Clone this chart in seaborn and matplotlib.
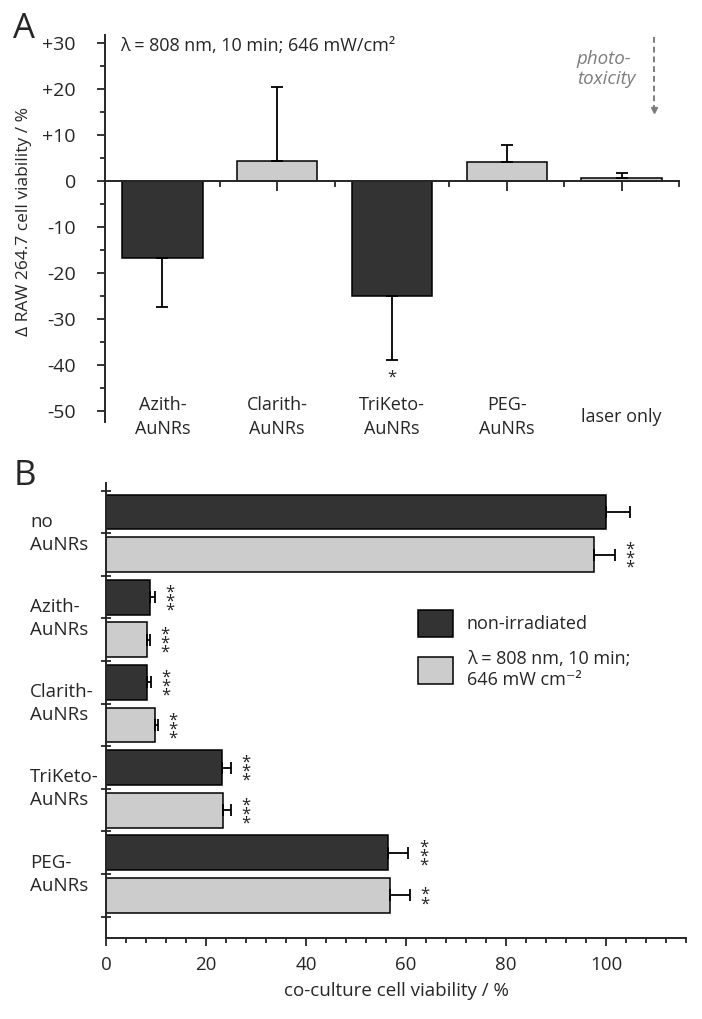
import matplotlib
matplotlib.use("Agg")
import matplotlib.pyplot as plt
import matplotlib.transforms as mtransforms
from matplotlib.ticker import MultipleLocator, FixedLocator
from matplotlib.patches import Patch
import numpy as np
import pandas as pd
import seaborn as sns

# =========================
# DATA
# =========================
# panel A: change of RAW 264.7 viability after irradiation
a_labels = ["Azith-\nAuNRs", "Clarith-\nAuNRs", "TriKeto-\nAuNRs", "PEG-\nAuNRs", "laser only"]
a_delta = [-16.8, 4.4, -25.1, 4.2, 0.6]
a_err = [10.7, 15.9, 13.8, 3.6, 1.0]
a_fill = ["dark", "light", "dark", "light", "light"]
a_stars = ["", "", "*", "", ""]
a_yticks = [-50, -40, -30, -20, -10, 0, 10, 20, 30]
a_yticklabels = ["-50", "-40", "-30", "-20", "-10", "0", "+10", "+20", "+30"]

# panel B: co-culture viability
b_groups = ["no\nAuNRs", "Azith-\nAuNRs", "Clarith-\nAuNRs", "TriKeto-\nAuNRs", "PEG-\nAuNRs"]
b_conditions = ["non-irradiated", "λ = 808 nm, 10 min;\n646 mW cm⁻²"]
b_dark = [100.1, 8.7, 8.1, 23.2, 56.4]
b_dark_err = [4.8, 1.0, 0.9, 1.8, 4.1]
b_dark_stars = ["", "***", "***", "***", "***"]
b_light = [97.7, 8.1, 9.7, 23.4, 56.8]
b_light_err = [4.1, 0.7, 0.6, 1.6, 4.0]
b_light_stars = ["***", "***", "***", "***", "**"]
b_xticks = [0, 20, 40, 60, 80, 100]

DARK = "#333333"
LIGHT = "#cccccc"
GREY = "#7d7d7d"

sns.set_style("ticks")
plt.rcParams["font.family"] = ["Open Sans", "DejaVu Sans"]
plt.rcParams["axes.linewidth"] = 1.4

fig = plt.figure(figsize=(7.02, 10.19), dpi=100)

# =========================
# PANEL A
# =========================
axA = fig.add_axes([0.1496, 0.5859, 0.8177, 0.3798])
dfA = pd.DataFrame({"label": a_labels, "delta": a_delta, "fill": a_fill})
sns.barplot(data=dfA, x="label", y="delta", hue="fill", dodge=False,
            palette={"dark": DARK, "light": LIGHT}, width=0.7,
            edgecolor="black", linewidth=1.1, legend=False, ax=axA)

lo = [e if v < 0 else 0 for v, e in zip(a_delta, a_err)]
up = [e if v >= 0 else 0 for v, e in zip(a_delta, a_err)]
axA.errorbar(np.arange(len(a_delta)), a_delta, yerr=[lo, up], fmt="none",
             ecolor="black", elinewidth=1.3, capsize=4, capthick=1.3)

axA.set_xlim(-0.5, 4.5)
axA.set_ylim(-52.4, 31.7)
sns.despine(ax=axA)
axA.spines["bottom"].set_position(("data", 0))

axA.set_xticks(np.arange(len(a_labels)))
axA.set_xticks(np.arange(len(a_labels)) + 0.5, minor=True)
axA.tick_params(axis="x", which="major", direction="out", length=7, width=1.3, labelbottom=False)
axA.tick_params(axis="x", which="minor", direction="out", length=4, width=1.3)
axA.set_yticks(a_yticks)
axA.set_yticklabels(a_yticklabels)
axA.yaxis.set_minor_locator(MultipleLocator(5))
axA.tick_params(axis="y", which="major", direction="out", length=6, width=1.3, pad=15, labelsize=14)
axA.tick_params(axis="y", which="minor", direction="out", length=3.6, width=1.3)
axA.set_xlabel("")
axA.set_ylabel("Δ RAW 264.7 cell viability / %", fontsize=12.5)
axA.yaxis.set_label_coords(-0.128, 0.519)

for i, lab in enumerate(a_labels):
    axA.text(i, -51.3, lab, ha="center", va="center", fontsize=13,
             linespacing=1.45)
    if a_stars[i]:
        axA.text(i, -42.8, a_stars[i], ha="center", va="center", fontsize=12)

axA.text(0.026, 0.9716, "λ = 808 nm, 10 min; 646 mW/cm²", transform=axA.transAxes,
         ha="left", va="center", fontsize=13)
axA.text(0.822, 0.912, "photo-\ntoxicity", transform=axA.transAxes, ha="left",
         va="center", fontsize=13.5, style="italic", color=GREY, linespacing=1.1)
axA.plot([0.9564, 0.9564], [0.995, 0.812], transform=axA.transAxes, color=GREY,
         lw=1.4, ls=(0, (3, 2)), clip_on=False)
axA.plot([0.9564], [0.806], transform=axA.transAxes, marker="v", color=GREY,
         markersize=5, clip_on=False)

# =========================
# PANEL B
# =========================
axB = fig.add_axes([0.151, 0.0795, 0.8262, 0.4465])
dfB = pd.DataFrame({
    "group": b_groups * 2,
    "condition": [b_conditions[0]] * len(b_groups) + [b_conditions[1]] * len(b_groups),
    "viability": b_dark + b_light,
})
sns.barplot(data=dfB, x="viability", y="group", hue="condition", orient="h",
            width=1.0, gap=0.18, palette=[DARK, LIGHT], edgecolor="black",
            linewidth=1.1, legend=False, ax=axB)

series = [(b_dark, b_dark_err, b_dark_stars), (b_light, b_light_err, b_light_stars)]
for cont, (vals, errs, stars) in zip(axB.containers, series):
    ys = [bar.get_y() + bar.get_height() / 2 for bar in cont]
    axB.errorbar(vals, ys, xerr=[[0] * len(vals), errs], fmt="none",
                 ecolor="black", elinewidth=1.3, capsize=4, capthick=1.3)
    for v, e, s, y in zip(vals, errs, stars, ys):
        if s:
            axB.text(v + e + 3.0, y + 0.05, "\n".join(s), ha="center", va="center",
                     fontsize=12, linespacing=0.42, color="#222222")

axB.set_xlim(0, 116)
axB.set_ylim(4.75, -0.59)
sns.despine(ax=axB)
axB.xaxis.set_major_locator(FixedLocator(b_xticks))
axB.xaxis.set_minor_locator(MultipleLocator(4))
axB.tick_params(axis="x", which="major", direction="out", length=6, width=1.3, pad=7, labelsize=13.5)
axB.tick_params(axis="x", which="minor", direction="out", length=3.6, width=1.3)
axB.set_yticks(np.arange(-0.5, len(b_groups), 0.5))
axB.set_yticklabels([])
axB.tick_params(axis="y", direction="inout", length=7, width=1.3)
axB.set_ylabel("")
axB.set_xlabel("co-culture cell viability / %", fontsize=13.5, labelpad=6)

trans = mtransforms.blended_transform_factory(axB.transAxes, axB.transData)
for g, lab in enumerate(b_groups):
    axB.text(-0.131, g, lab, transform=trans, ha="left", va="center", fontsize=13.5,
             linespacing=1.35)

handles = [Patch(facecolor=DARK, edgecolor="black", linewidth=1.1),
           Patch(facecolor=LIGHT, edgecolor="black", linewidth=1.1)]
axB.legend(handles, b_conditions, loc="upper left", bbox_to_anchor=(0.538, 0.721),
           frameon=False, fontsize=13, handlelength=1.95, handleheight=1.95,
           labelspacing=0.7, handletextpad=0.75, borderpad=0, borderaxespad=0)

# panel letters
fig.text(13 / 702, 1 - 29 / 1019, "A", fontsize=25, ha="left", va="center")
fig.text(14 / 702, 1 - 476 / 1019, "B", fontsize=25, ha="left", va="center")

fig.savefig("out.png", dpi=100)
plt.close(fig)
